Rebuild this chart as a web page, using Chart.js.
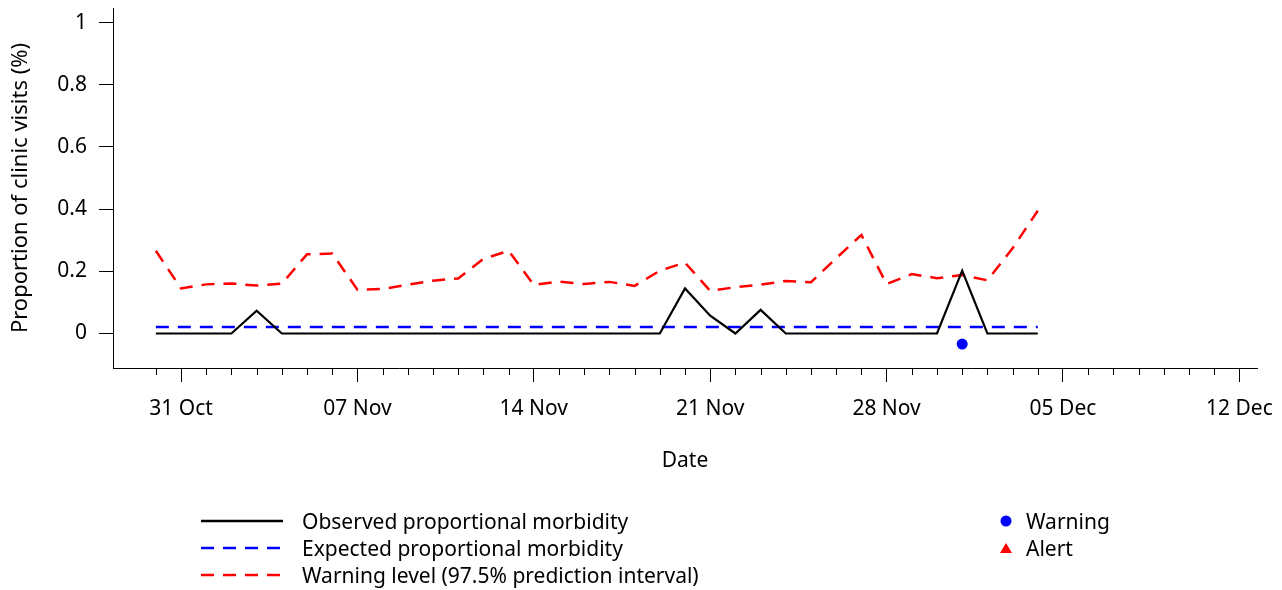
<!DOCTYPE html>
<html>
<head>
<meta charset="utf-8">
<title>Proportional morbidity</title>
<script src="https://cdn.jsdelivr.net/npm/chart.js@4.4.1/dist/chart.umd.min.js"></script>
<style>
    body { margin: 0; background: #fff; }
    #wrap { position: relative; width: 1282px; height: 590px; font-family: 'Noto Sans', sans-serif; color: #000; }
    #chart { position: absolute; left: 0; top: 0; }
    .legend-row { position: absolute; height: 26px; display: flex; align-items: center; font-size: 21px; white-space: nowrap; }
    .legend-row svg { flex: none; }
</style>
</head>
<body>
<div id="wrap">
    <canvas id="chart" width="1282" height="590"></canvas>
    <div id="legend"></div>
</div>
<script>
// daily dates (month-day), 30 Oct to 04 Dec
const dates = [
    '10-30', '10-31', '11-01', '11-02', '11-03', '11-04', '11-05', '11-06', '11-07', '11-08',
    '11-09', '11-10', '11-11', '11-12', '11-13', '11-14', '11-15', '11-16', '11-17', '11-18',
    '11-19', '11-20', '11-21', '11-22', '11-23', '11-24', '11-25', '11-26', '11-27', '11-28',
    '11-29', '11-30', '12-01', '12-02', '12-03', '12-04'
];

const observed = [
    0, 0, 0, 0, 0.073, 0, 0, 0, 0, 0,
    0, 0, 0, 0, 0, 0, 0, 0, 0, 0,
    0, 0.145, 0.057, 0, 0.076, 0, 0, 0, 0, 0,
    0, 0, 0.202, 0, 0, 0
];

const expected = [
    0.021, 0.021, 0.021, 0.021, 0.021, 0.021, 0.021, 0.021, 0.021, 0.021,
    0.021, 0.021, 0.021, 0.021, 0.021, 0.021, 0.021, 0.021, 0.021, 0.021,
    0.021, 0.021, 0.021, 0.021, 0.021, 0.021, 0.021, 0.021, 0.021, 0.021,
    0.021, 0.021, 0.021, 0.021, 0.021, 0.021
];

const warningLevel = [
    0.266, 0.145, 0.158, 0.161, 0.154, 0.160, 0.255, 0.257, 0.141, 0.143,
    0.157, 0.170, 0.177, 0.240, 0.266, 0.156, 0.167, 0.159, 0.166, 0.153,
    0.202, 0.228, 0.137, 0.149, 0.157, 0.169, 0.165, 0.242, 0.317, 0.159,
    0.191, 0.178, 0.188, 0.171, 0.274, 0.395
];

// signals, drawn just under the zero line
const warningDates = ['12-01'];
const warningValues = [-0.034];
const alertDates = [];
const alertValues = [];

const tickDates = ['10-31', '11-07', '11-14', '11-21', '11-28', '12-05', '12-12'];
const tickLabels = ['31 Oct', '07 Nov', '14 Nov', '21 Nov', '28 Nov', '05 Dec', '12 Dec'];
const yTicks = [0, 0.2, 0.4, 0.6, 0.8, 1];
const yTickLabels = ['0', '0.2', '0.4', '0.6', '0.8', '1'];

// days counted from 31 Oct
function dayOf(md) {
    const [m, d] = md.split('-').map(Number);
    return Math.round((Date.UTC(2001, m - 1, d) - Date.UTC(2001, 9, 31)) / 86400000);
}

function toPoints(ds, values) {
    return ds.map((d, i) => ({ x: dayOf(d), y: values[i] }));
}

const majorDays = tickDates.map(dayOf);

Chart.defaults.font.family = "'Noto Sans', sans-serif";
Chart.defaults.font.size = 21;
Chart.defaults.color = '#000';

// short daily ticks between the labelled weekly ones
const minorTicks = {
    id: 'minorTicks',
    afterDraw(chart) {
        const scale = chart.scales.x;
        const bottom = chart.chartArea.bottom;
        const ctx = chart.ctx;
        ctx.save();
        ctx.strokeStyle = '#000';
        ctx.lineWidth = 1;
        for (let d = dayOf(dates[0]); d <= majorDays[majorDays.length - 1]; d++) {
            if (majorDays.includes(d)) continue;
            const px = Math.round(scale.getPixelForValue(d)) + 0.5;
            ctx.beginPath();
            ctx.moveTo(px, bottom);
            ctx.lineTo(px, bottom + 7);
            ctx.stroke();
        }
        ctx.restore();
    }
};

const chart = new Chart(document.getElementById('chart'), {
    type: 'line',
    data: {
        datasets: [
            {
                label: 'Observed proportional morbidity',
                data: toPoints(dates, observed),
                borderColor: '#000000',
                borderWidth: 2.2,
                pointRadius: 0,
                tension: 0
            },
            {
                label: 'Expected proportional morbidity',
                data: toPoints(dates, expected),
                borderColor: '#0000ff',
                borderWidth: 2.5,
                borderDash: [13, 9],
                pointRadius: 0
            },
            {
                label: 'Warning level (97.5% prediction interval)',
                data: toPoints(dates, warningLevel),
                borderColor: '#ff0000',
                borderWidth: 2.5,
                borderDash: [13, 9],
                pointRadius: 0
            },
            {
                label: 'Warning',
                data: toPoints(warningDates, warningValues),
                showLine: false,
                pointStyle: 'circle',
                pointRadius: 5.5,
                backgroundColor: '#0000ff',
                borderColor: '#0000ff',
                borderWidth: 0
            },
            {
                label: 'Alert',
                data: toPoints(alertDates, alertValues),
                showLine: false,
                pointStyle: 'triangle',
                pointRadius: 6,
                backgroundColor: '#ff0000',
                borderColor: '#ff0000',
                borderWidth: 0
            }
        ]
    },
    options: {
        responsive: false,
        animation: false,
        layout: { padding: { top: 8, right: 25, bottom: 116, left: 0 } },
        plugins: {
            legend: { display: false },
            tooltip: { enabled: false }
        },
        scales: {
            x: {
                type: 'linear',
                min: -2.7,
                max: 42.7,
                afterFit: (s) => {
                    s.height = 106;
                    s.paddingLeft = 0;
                    s.paddingRight = 0;
                },
                afterBuildTicks: (s) => { s.ticks = majorDays.map(v => ({ value: v })); },
                ticks: {
                    autoSkip: false,
                    maxRotation: 0,
                    padding: 14,
                    color: '#000',
                    callback: (v) => tickLabels[majorDays.indexOf(v)]
                },
                grid: { drawOnChartArea: false, tickLength: 14, tickColor: '#000', tickWidth: 1 },
                border: { display: true, color: '#000', width: 1 },
                title: { display: true, text: 'Date', color: '#000', padding: { top: 0, bottom: 0 } }
            },
            y: {
                min: -0.111,
                max: 1.047,
                afterFit: (s) => {
                    s.width = 113;
                    s.paddingTop = 0;
                    s.paddingBottom = 0;
                },
                afterBuildTicks: (s) => { s.ticks = yTicks.map(v => ({ value: v })); },
                ticks: {
                    padding: 12,
                    color: '#000',
                    callback: (v) => yTickLabels[yTicks.indexOf(v)]
                },
                grid: { drawOnChartArea: false, tickLength: 14, tickColor: '#000', tickWidth: 1 },
                border: { display: true, color: '#000', width: 1 },
                title: {
                    display: true,
                    text: 'Proportion of clinic visits (%)',
                    color: '#000',
                    font: { size: 22 },
                    padding: { top: 8, bottom: 0 }
                }
            }
        }
    },
    plugins: [minorTicks]
});

// legend: line series on the left, signal markers on the right
function buildLegend(chart) {
    const box = document.getElementById('legend');
    const rowTops = [508, 535, 562];
    let lineRow = 0, markRow = 0;
    chart.data.datasets.forEach(ds => {
        const row = document.createElement('div');
        row.className = 'legend-row';
        let svg;
        if (ds.showLine === false) {
            row.style.left = '1000px';
            row.style.top = rowTops[markRow++] + 'px';
            const shape = ds.pointStyle === 'triangle'
                ? `<polygon points="6,1 12,11 0,11" fill="${ds.backgroundColor}"/>`
                : `<circle cx="6" cy="6" r="5.5" fill="${ds.backgroundColor}"/>`;
            svg = `<svg width="12" height="12" style="margin-right:14px">${shape}</svg>`;
        } else {
            row.style.left = '201px';
            row.style.top = rowTops[lineRow++] + 'px';
            const dash = ds.borderDash ? `stroke-dasharray="${ds.borderDash.join(' ')}"` : '';
            svg = `<svg width="82" height="10" style="margin-right:19px"><line x1="0" y1="5" x2="82" y2="5" stroke="${ds.borderColor}" stroke-width="2.5" ${dash}/></svg>`;
        }
        row.innerHTML = svg + '<span></span>';
        row.querySelector('span').textContent = ds.label;
        box.appendChild(row);
    });
}

buildLegend(chart);
</script>
</body>
</html>
